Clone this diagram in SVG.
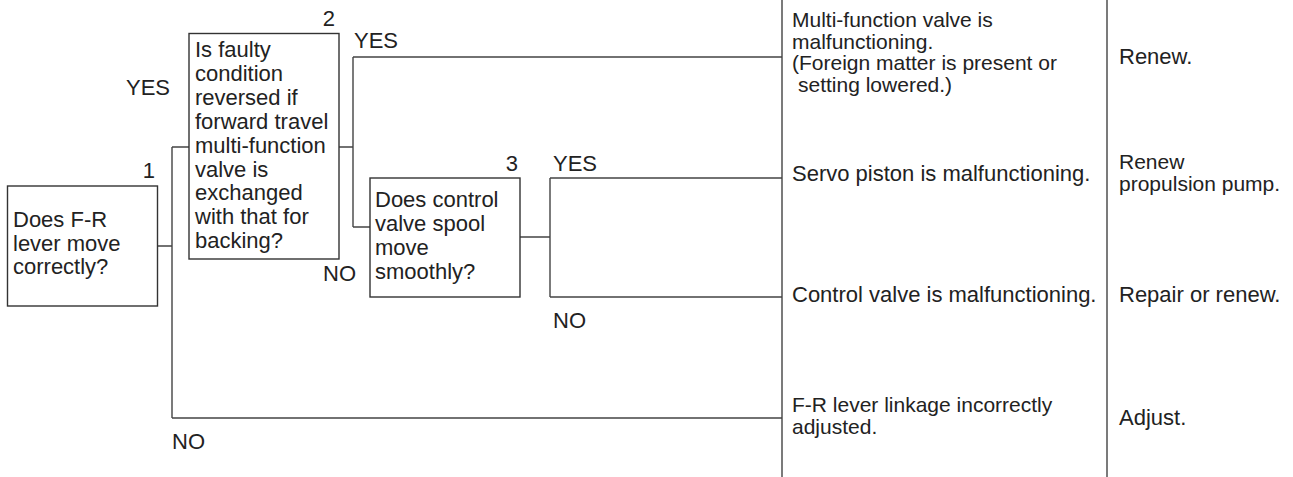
<svg xmlns="http://www.w3.org/2000/svg" width="1293" height="477" viewBox="0 0 1293 477">
<style>
text{font-family:"Liberation Sans",Arial,sans-serif;font-size:22px;fill:#222}
.sm{font-size:21px}
.box{fill:#fff;stroke:#333;stroke-width:1.4}
.ln{fill:none;stroke:#444;stroke-width:1.4}
.end{text-anchor:end}
</style>
<rect width="1293" height="477" fill="#fff"/>
<g id="connectors">
<path class="ln" d="M157,246H172M172,147V418M172,147H189M172,418H782"/>
<path class="ln" d="M339,147H353M353,57V227M353,57H782M353,227H370"/>
<path class="ln" d="M520,237H550M550,178V297M550,178H782M550,297H782"/>
<path class="ln" d="M782,0V477M1107,0V477"/>
</g>
<g id="labels">
<text x="126" y="95">YES</text>
<text x="354" y="48">YES</text>
<text x="323" y="281">NO</text>
<text x="553" y="171">YES</text>
<text x="553" y="328">NO</text>
<text x="172" y="449">NO</text>
</g>
<g id="node1">
<rect class="box" x="7.5" y="186" width="150" height="120"/>
<text class="end" x="155" y="178">1</text>
<text x="13" y="227">Does F-R<tspan x="13" dy="23.5">lever move</tspan><tspan x="13" dy="23.5">correctly?</tspan></text>
</g>
<g id="node2">
<rect class="box" x="189" y="33.5" width="150" height="225.5"/>
<text class="end" x="335" y="26">2</text>
<text x="195" y="57">Is faulty<tspan x="195" dy="23.9">condition</tspan><tspan x="195" dy="23.9">reversed if</tspan><tspan x="195" dy="23.9">forward travel</tspan><tspan x="195" dy="23.9">multi-function</tspan><tspan x="195" dy="23.9">valve is</tspan><tspan x="195" dy="23.9">exchanged</tspan><tspan x="195" dy="23.9">with that for</tspan><tspan x="195" dy="23.9">backing?</tspan></text>
</g>
<g id="node3">
<rect class="box" x="370" y="178" width="150" height="119"/>
<text class="end" x="518" y="171">3</text>
<text x="375" y="207">Does control<tspan x="375" dy="24">valve spool</tspan><tspan x="375" dy="24">move</tspan><tspan x="375" dy="24">smoothly?</tspan></text>
</g>
<g id="cause1">
<text class="sm" x="792" y="27">Multi-function valve is<tspan x="792" dy="21.5">malfunctioning.</tspan><tspan x="792" dy="21.5">(Foreign matter is present or</tspan><tspan x="798" dy="21.5">setting lowered.)</tspan></text>
</g>
<g id="cause2"><text x="792" y="181">Servo piston is malfunctioning.</text></g>
<g id="cause3"><text x="792" y="302">Control valve is malfunctioning.</text></g>
<g id="cause4">
<text class="sm" x="792" y="412">F-R lever linkage incorrectly<tspan x="792" dy="22">adjusted.</tspan></text>
</g>
<g id="remedy1"><text x="1119" y="64">Renew.</text></g>
<g id="remedy2">
<text class="sm" x="1119" y="169">Renew<tspan x="1119" dy="22">propulsion pump.</tspan></text>
</g>
<g id="remedy3"><text x="1119" y="302">Repair or renew.</text></g>
<g id="remedy4"><text x="1119" y="425">Adjust.</text></g>
</svg>
